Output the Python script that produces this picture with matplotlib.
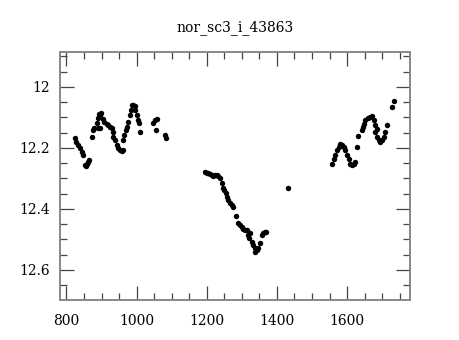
import matplotlib
matplotlib.use("Agg")
import matplotlib.pyplot as plt
from matplotlib.ticker import MultipleLocator, FormatStrFormatter

# light curve points (time, magnitude)
t_a = [823.7, 828.6, 833.1, 838.0, 842.9, 847.4, 852.3, 855.1, 858.0, 860.9,
       863.7, 871.4, 874.3, 878.0, 885.7, 890.3, 893.1, 895.1, 898.0, 890.3,
       895.1, 903.7, 908.0, 914.3, 918.9, 923.7, 928.6, 931.4, 933.1, 938.0,
       942.9, 947.4, 952.3, 957.1, 961.7, 960.0, 964.6, 969.4, 973.1, 976.0,
       980.9, 982.9, 985.7, 990.3, 995.1, 995.1, 1000.0, 1004.6, 1007.4, 1009.4,
       1047.4, 1052.3, 1057.1, 1055.1, 1080.9, 1083.7]
m_a = [12.169, 12.180, 12.191, 12.202, 12.213, 12.223, 12.256, 12.261, 12.253, 12.246,
       12.241, 12.164, 12.142, 12.136, 12.120, 12.103, 12.090, 12.093, 12.087, 12.136,
       12.136, 12.106, 12.116, 12.123, 12.125, 12.131, 12.136, 12.147, 12.164, 12.174,
       12.191, 12.202, 12.207, 12.210, 12.207, 12.174, 12.158, 12.142, 12.131, 12.115,
       12.093, 12.076, 12.060, 12.058, 12.063, 12.076, 12.093, 12.109, 12.120, 12.147,
       12.120, 12.109, 12.106, 12.142, 12.158, 12.167]

t_b = [1195.1, 1200.0, 1204.6, 1209.4, 1214.3, 1218.9, 1223.7, 1228.6, 1233.1, 1238.0,
       1242.9, 1245.7, 1249.4, 1255.1, 1258.8, 1261.7, 1266.6, 1271.4, 1274.3, 1283.7,
       1290.3, 1295.1, 1300.0, 1304.6, 1309.4, 1314.3, 1318.9, 1323.7, 1321.7, 1328.6,
       1333.1, 1338.0, 1338.0, 1342.9, 1347.4, 1352.3, 1357.1, 1361.7, 1366.6, 1369.4,
       1430.3]
m_b = [12.278, 12.281, 12.283, 12.286, 12.289, 12.292, 12.289, 12.289, 12.292, 12.300,
       12.316, 12.332, 12.338, 12.349, 12.360, 12.371, 12.382, 12.387, 12.393, 12.423,
       12.445, 12.453, 12.460, 12.467, 12.469, 12.469, 12.485, 12.480, 12.496, 12.507,
       12.518, 12.529, 12.540, 12.534, 12.529, 12.512, 12.485, 12.480, 12.474, 12.474,
       12.332]

t_c = [1557.1, 1561.7, 1566.6, 1571.4, 1576.0, 1580.9, 1585.7, 1590.3, 1595.1, 1600.0,
       1604.6, 1609.4, 1614.3, 1618.9, 1623.7, 1628.6, 1632.0, 1642.9, 1644.6, 1647.4,
       1652.3, 1660.0, 1666.6, 1671.4, 1676.0, 1680.9, 1685.7, 1680.9, 1685.7, 1690.3,
       1695.1, 1700.0, 1704.6, 1709.4, 1714.3, 1728.6, 1733.1]
m_c = [12.252, 12.236, 12.224, 12.208, 12.197, 12.187, 12.190, 12.197, 12.208, 12.224,
       12.236, 12.252, 12.257, 12.252, 12.246, 12.197, 12.161, 12.143, 12.132, 12.121,
       12.110, 12.102, 12.099, 12.096, 12.110, 12.126, 12.137, 12.148, 12.165, 12.175,
       12.181, 12.175, 12.165, 12.148, 12.126, 12.066, 12.045]

x_ticks = [800, 1000, 1200, 1400, 1600]
y_ticks = [12, 12.2, 12.4, 12.6]
title = "nor_sc3_i_43863"

plt.rcParams["font.family"] = ["DejaVu Serif"]

fig = plt.figure(figsize=(4.6, 3.4), dpi=100)
ax = fig.add_axes([0.130, 0.118, 0.761, 0.729])

t = t_a + t_b + t_c
m = m_a + m_b + m_c
ax.plot(t, m, "o", color="black", markersize=3.9, markeredgewidth=0)

ax.set_xlim(781, 1779)
ax.set_ylim(12.698, 11.886)

ax.set_xticks(x_ticks)
ax.set_yticks(y_ticks)
ax.xaxis.set_minor_locator(MultipleLocator(50))
ax.yaxis.set_minor_locator(MultipleLocator(0.05))
ax.yaxis.set_major_formatter(FormatStrFormatter("%g"))

ax.tick_params(which="both", direction="in", top=True, right=True,
               color="#444444", labelsize=10, width=0.9)
ax.tick_params(axis="x", pad=10)
ax.tick_params(axis="y", pad=7)
ax.tick_params(which="major", length=10)
ax.tick_params(which="minor", length=5)
for s in ax.spines.values():
    s.set_color("#888888")
    s.set_linewidth(1.4)

ax.set_title(title, fontsize=10, pad=15)

fig.savefig("out.png", dpi=100)
